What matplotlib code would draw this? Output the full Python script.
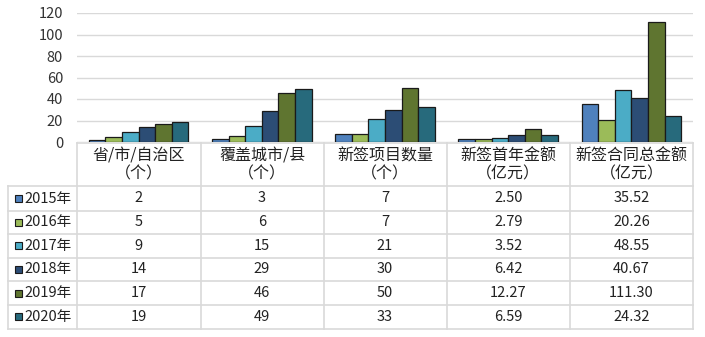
import numpy as np
import matplotlib.pyplot as plt
from matplotlib.patches import Rectangle
from matplotlib.lines import Line2D

plt.rcParams['font.family'] = ['Noto Sans CJK SC', 'DejaVu Sans']

categories = ['省/市/自治区\n（个）', '覆盖城市/县\n（个）', '新签项目数量\n（个）',
              '新签首年金额\n（亿元）', '新签合同总金额\n（亿元）']
years = ['2015年', '2016年', '2017年', '2018年', '2019年', '2020年']
v2015 = [2, 3, 7, 2.50, 35.52]
v2016 = [5, 6, 7, 2.79, 20.26]
v2017 = [9, 15, 21, 3.52, 48.55]
v2018 = [14, 29, 30, 6.42, 40.67]
v2019 = [17, 46, 50, 12.27, 111.30]
v2020 = [19, 49, 33, 6.59, 24.32]
labels2015 = ['2', '3', '7', '2.50', '35.52']
labels2016 = ['5', '6', '7', '2.79', '20.26']
labels2017 = ['9', '15', '21', '3.52', '48.55']
labels2018 = ['14', '29', '30', '6.42', '40.67']
labels2019 = ['17', '46', '50', '12.27', '111.30']
labels2020 = ['19', '49', '33', '6.59', '24.32']

series = [v2015, v2016, v2017, v2018, v2019, v2020]
cell_text = [labels2015, labels2016, labels2017, labels2018, labels2019, labels2020]
colors = ['#4F81BD', '#9BBB59', '#4BACC6', '#2C4D75', '#5F7530', '#276A7C']

W, H = 705, 337
fig = plt.figure(figsize=(W / 100, H / 100), dpi=100)

# plot area in pixels
left, right, top, bottom = 77, 693, 13, 142
ax = fig.add_axes([left / W, 1 - bottom / H, (right - left) / W, (bottom - top) / H])

x = np.arange(len(categories))
bw = 0.135
for i, vals in enumerate(series):
    ax.bar(x + (i - 2.5) * bw, vals, bw, color=colors[i], edgecolor='#1a1a1a',
           linewidth=0.9, zorder=3)

ax.set_xlim(-0.5, len(categories) - 0.5)
ax.set_ylim(0, 120)
ax.set_yticks(range(0, 121, 20))
ax.set_xticks([])
ax.tick_params(axis='y', length=0, pad=10, labelsize=10.5, labelcolor='#333333')
ax.grid(axis='y', color='#D9D9D9', linewidth=1, zorder=0)
for s in ax.spines.values():
    s.set_visible(False)


# table drawn in pixel coords
def fx(px):
    return px / W


def fy(py):
    return 1 - py / H


line_c = '#D9D9D9'
col_edges = [77, 200.5, 323.5, 446.5, 570, 693]
row_edges = [186.5, 210.5, 234, 257.5, 281, 305, 328.5]
tab_left = 8

# header border
fig.add_artist(Line2D([fx(77), fx(693)], [fy(143), fy(143)], color=line_c, lw=1.2))
for xe in col_edges:
    fig.add_artist(Line2D([fx(xe), fx(xe)], [fy(143), fy(row_edges[-1])], color=line_c, lw=1.2))
fig.add_artist(Line2D([fx(tab_left), fx(tab_left)], [fy(row_edges[0]), fy(row_edges[-1])],
                      color=line_c, lw=1.2))
for ye in row_edges:
    fig.add_artist(Line2D([fx(tab_left), fx(693)], [fy(ye), fy(ye)], color=line_c, lw=1.2))

# header text
for j, cat in enumerate(categories):
    cx = (col_edges[j] + col_edges[j + 1]) / 2
    fig.text(fx(cx), fy(165), cat, ha='center', va='center', fontsize=11.5,
             color='#222222', linespacing=1.05)

# rows
for i, yr in enumerate(years):
    cy = (row_edges[i] + row_edges[i + 1]) / 2
    fig.add_artist(Rectangle((fx(15), fy(cy + 3.5)), 7 / W, 7 / H, facecolor=colors[i],
                             edgecolor='#1a1a1a', lw=0.8))
    fig.text(fx(24), fy(cy), yr, ha='left', va='center', fontsize=10.5, color='#222222')
    for j in range(len(categories)):
        cx = (col_edges[j] + col_edges[j + 1]) / 2
        fig.text(fx(cx), fy(cy), cell_text[i][j], ha='center', va='center',
                 fontsize=10.5, color='#222222')

fig.savefig('out.png', dpi=100)
